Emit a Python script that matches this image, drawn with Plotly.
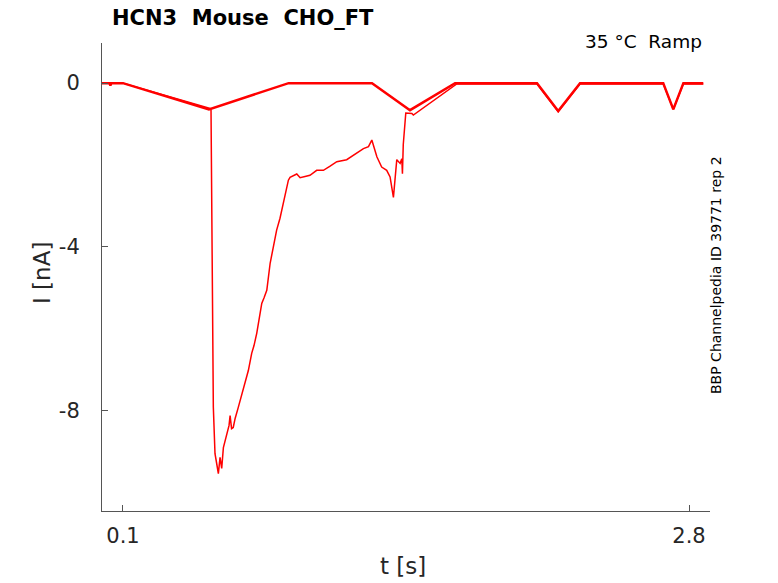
import plotly.graph_objects as go

# Sweep A: ramp protocol responses without the large transient
t_a = [0.0, 0.035, 0.04, 0.045, 0.10, 0.51, 0.89, 1.288, 1.469, 1.684, 2.075, 2.176, 2.28, 2.677, 2.725, 2.773, 2.868]
i_a = [0.0, 0.0, -0.06, 0.0, 0.0, -0.64, 0.0, 0.0, -0.66, 0.0, 0.0, -0.68, 0.0, 0.0, -0.64, 0.0, 0.0]

# Sweep B: ramp response with large inward current
t_b = [0.0, 0.10, 0.515, 0.520, 0.531, 0.539, 0.547, 0.555, 0.563, 0.571, 0.579, 0.595, 0.606, 0.611,
       0.618, 0.626, 0.635, 0.650, 0.658, 0.674, 0.687, 0.698, 0.714, 0.725, 0.738, 0.749, 0.762,
       0.773, 0.786, 0.802, 0.816, 0.833, 0.849, 0.865, 0.878, 0.889, 0.897, 0.929, 0.945, 0.992,
       1.024, 1.056, 1.088, 1.120, 1.167, 1.199, 1.247, 1.271, 1.287, 1.311, 1.334, 1.358, 1.374,
       1.390, 1.398, 1.406, 1.422, 1.430, 1.433, 1.437, 1.449, 1.478, 1.485, 1.692, 2.075, 2.176,
       2.28, 2.677, 2.725, 2.773, 2.868]
i_b = [0.0, 0.0, -0.62, -0.66, -7.91, -9.05, -9.29, -9.54, -9.14, -9.41, -8.90, -8.56, -8.36, -8.12,
       -8.44, -8.41, -8.19, -7.92, -7.76, -7.43, -7.22, -7.02, -6.60, -6.41, -6.11, -5.80, -5.38,
       -5.24, -5.06, -4.40, -4.04, -3.59, -3.30, -2.93, -2.57, -2.37, -2.30, -2.22, -2.31, -2.25,
       -2.13, -2.13, -2.03, -1.92, -1.87, -1.76, -1.60, -1.55, -1.39, -1.80, -2.05, -2.13, -2.29,
       -2.79, -2.40, -1.87, -1.96, -1.85, -2.21, -1.50, -0.73, -0.74, -0.78, -0.02, -0.02, -0.70,
       -0.02, -0.02, -0.64, -0.02, -0.02]

x_ticks = [0.1, 2.8]
x_ticklabels = ["0.1", "2.8"]
y_ticks = [0, -4, -8]
y_ticklabels = ["0", "-4", "-8"]

FONT = "DejaVu Sans"
TXT = "#262626"
AX = "#555555"

fig = go.Figure()
fig.add_trace(go.Scatter(x=t_a, y=i_a, mode="lines", line=dict(color="#ff0000", width=2.5), showlegend=False))
fig.add_trace(go.Scatter(x=t_b, y=i_b, mode="lines", line=dict(color="#ff0000", width=1.5), showlegend=False))

fig.update_layout(
    width=778, height=583,
    margin=dict(l=102, r=68, t=43, b=72, autoexpand=False),
    paper_bgcolor="white", plot_bgcolor="white",
    font=dict(family=FONT, color=TXT),
    title=dict(text="<b>HCN3  Mouse  CHO_FT</b>", x=112/778, xanchor="left", xref="container",
               y=1-18/583, yanchor="middle", yref="container", pad=dict(l=0, r=0, t=0, b=0),
               font=dict(size=21, color="black", family=FONT)),
)
fig.update_xaxes(range=[0.0, 2.9], showline=True, linecolor=AX, linewidth=1, showgrid=False, zeroline=False,
                 automargin=False,
                 tickmode="array", tickvals=x_ticks, ticktext=x_ticklabels, ticks="inside", ticklen=6,
                 tickcolor=AX, tickfont=dict(size=21, color=TXT), ticklabelstandoff=6)
fig.update_yaxes(range=[-10.45, 0.98], showline=True, linecolor=AX, linewidth=1, showgrid=False, zeroline=False,
                 automargin=False,
                 tickmode="array", tickvals=y_ticks, ticktext=y_ticklabels, ticks="inside", ticklen=6,
                 tickcolor=AX, tickfont=dict(size=21, color=TXT), ticklabelstandoff=17)
fig.add_annotation(text="t [s]", xref="paper", yref="paper", x=(403-102)/608, y=(511-566)/468,
                   xanchor="center", yanchor="middle", showarrow=False, font=dict(size=23, color=TXT, family=FONT))
fig.add_annotation(text="I [nA]", xref="paper", yref="paper", x=(42-102)/608, y=(511-273)/468,
                   xanchor="center", yanchor="middle", textangle=-90, showarrow=False,
                   font=dict(size=23, color=TXT, family=FONT))
fig.add_annotation(text="35 °C  Ramp", xref="paper", yref="paper", x=(704-102)/608, y=1+2/468,
                   xanchor="right", yanchor="middle", showarrow=False, font=dict(size=18.5, color="black", family=FONT))
fig.add_annotation(text="BBP Channelpedia ID 39771 rep 2", xref="paper", yref="paper", x=(716-102)/608,
                   y=(511-275)/468, xanchor="center", yanchor="middle", textangle=-90, showarrow=False,
                   font=dict(size=14, color="black", family=FONT))

fig.write_html("out.html", config={"displayModeBar": False},
               post_script="document.body.style.margin='0';document.body.style.overflow='hidden';")
